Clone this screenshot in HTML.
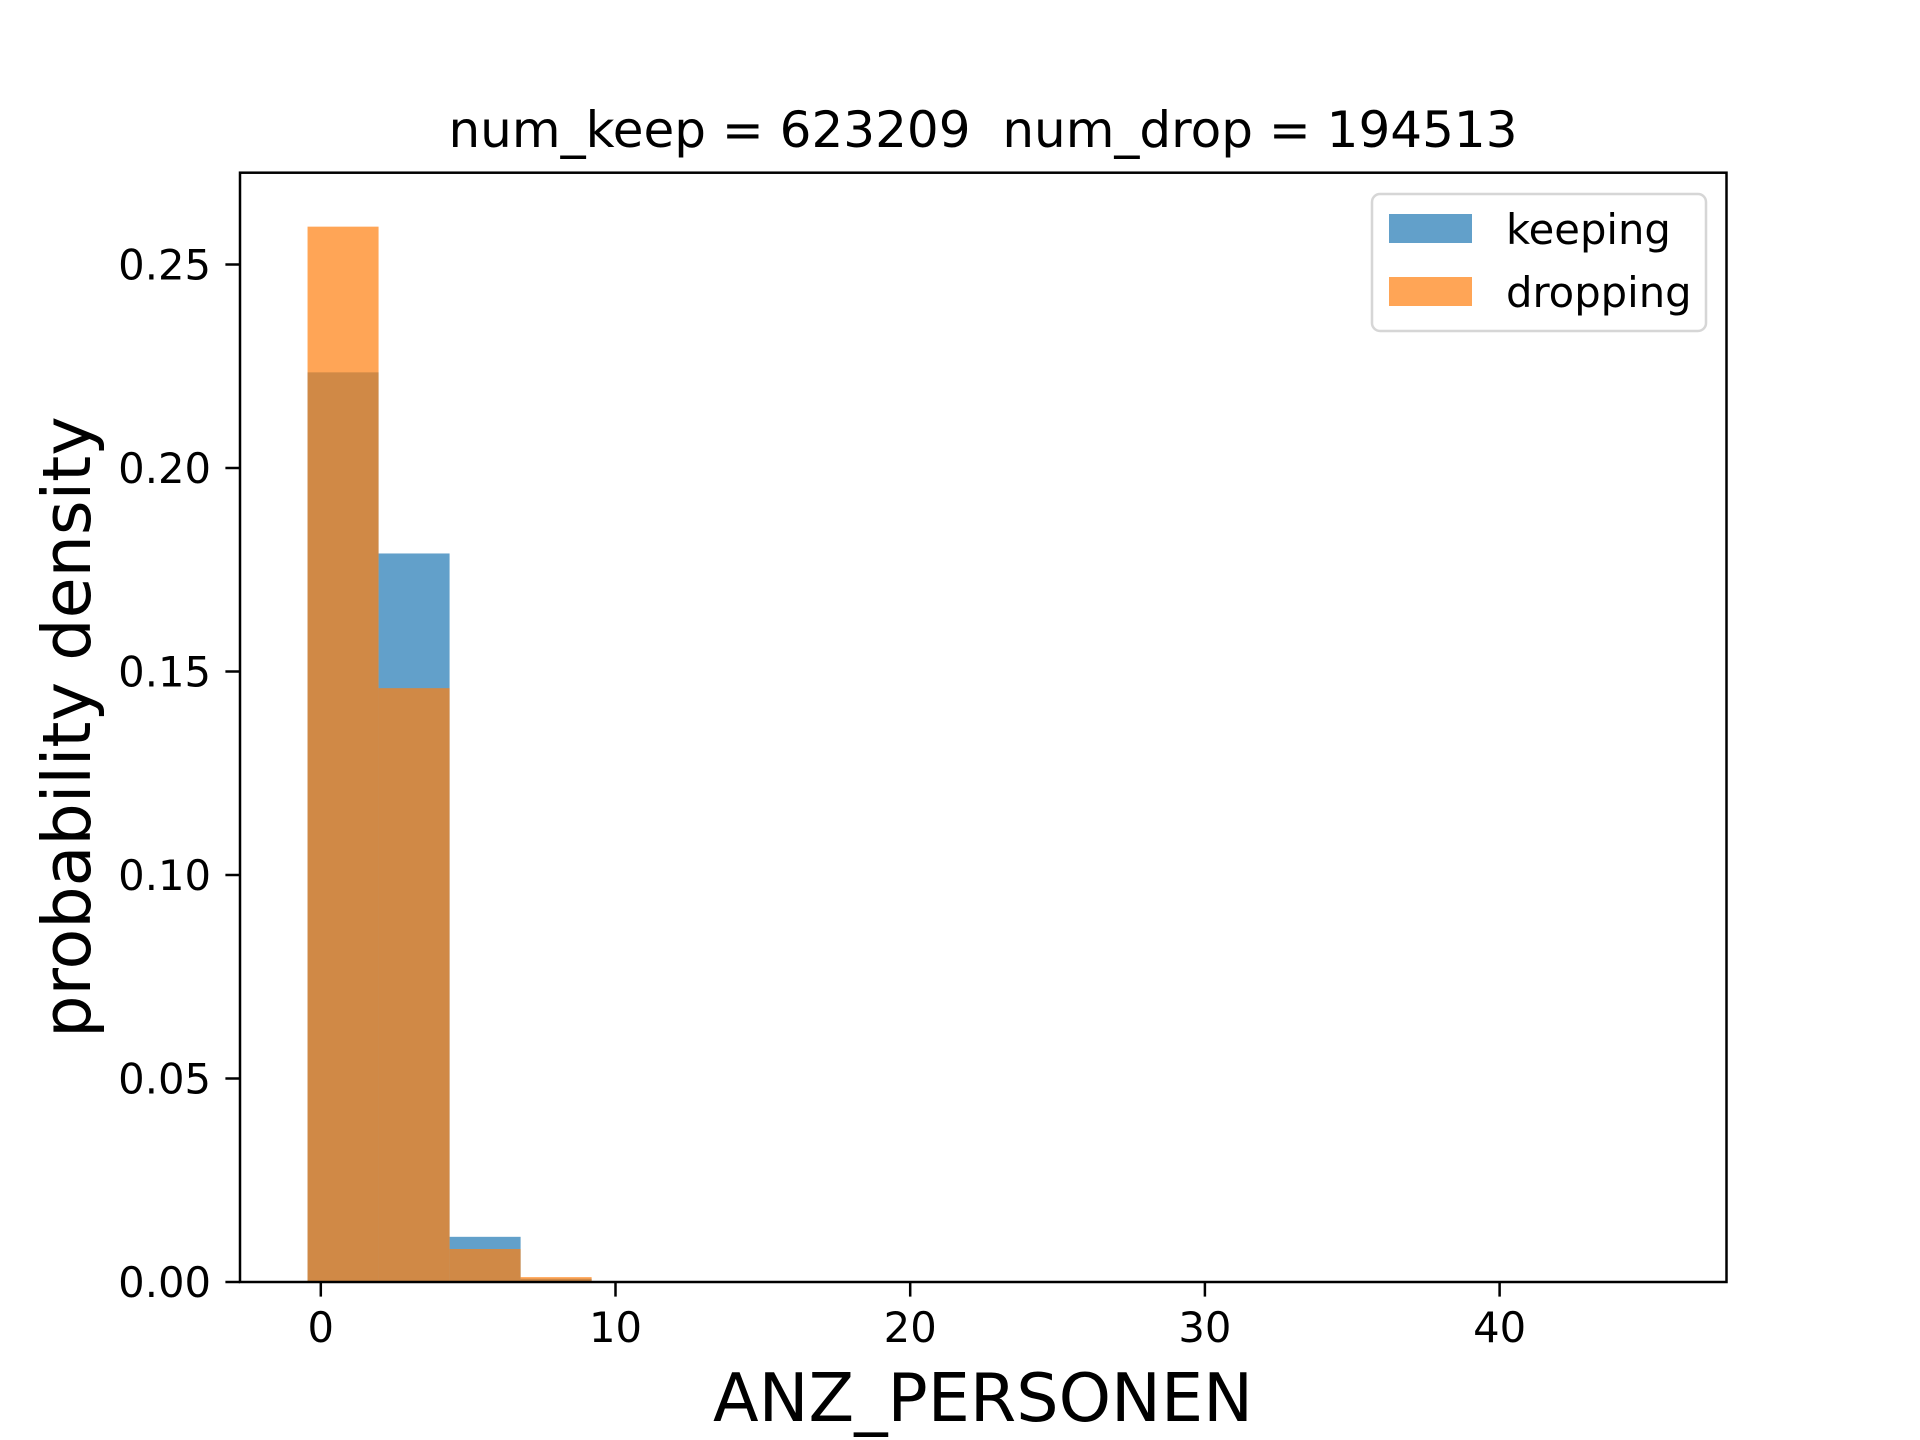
<!DOCTYPE html>
<html><head><meta charset="utf-8"><style>
html,body{margin:0;padding:0;background:#fff}
svg{display:block;font-family:"DejaVu Sans","Liberation Sans",sans-serif}
</style></head><body>
<svg id="chart" width="1920" height="1440" viewBox="0 0 1920 1440" xmlns="http://www.w3.org/2000/svg">
<rect width="1920" height="1440" fill="#fff"/>
<g id="bars"></g>
<rect x="240" y="172.7" width="1486.5" height="1109.3" fill="none" stroke="#000" stroke-width="2.5"/>
<g id="ticks"></g>
<text x="983" y="147" font-size="50" text-anchor="middle" style="white-space:pre" xml:space="preserve">num_keep = 623209  num_drop = 194513</text>
<text x="983" y="1421" font-size="66.7" text-anchor="middle">ANZ_PERSONEN</text>
<text transform="translate(90,727) rotate(-90)" font-size="66.7" text-anchor="middle">probability density</text>
<g>
<rect x="1372" y="194" width="334" height="137" rx="8" fill="#fff" fill-opacity="0.8" stroke="#d6d6d6" stroke-width="2.5"/>
<rect x="1389" y="214" width="83" height="29" fill="#1f77b4" fill-opacity="0.7"/>
<text x="1506" y="244" font-size="41.7">keeping</text>
<rect x="1389" y="277" width="83" height="29" fill="#ff7f0e" fill-opacity="0.7"/>
<text x="1506" y="307" font-size="41.7">dropping</text>
</g>
</svg>
<script>
const binEdgesStart = -0.45;
const binWidth = 2.41;
const keepValues = [0.2235, 0.179, 0.0111, 0.0008, 0.0001, 0, 0, 0, 0, 0, 0, 0, 0, 0, 0, 0, 0, 0, 0];
const dropValues = [0.2593, 0.1459, 0.0081, 0.0012, 0.0001, 0, 0, 0, 0, 0, 0, 0, 0, 0, 0, 0, 0, 0, 0];
const xTicks = [0, 10, 20, 30, 40];
const yTicks = [0, 0.05, 0.10, 0.15, 0.20, 0.25];
const yTickLabels = ["0.00", "0.05", "0.10", "0.15", "0.20", "0.25"];

const X0 = 320.8, XS = 29.47, Y0 = 1282, YS = 4070;
function sx(v){ return X0 + v * XS; }
function sy(v){ return Y0 - v * YS; }
const NS = "http://www.w3.org/2000/svg";
const bars = document.getElementById('bars');
function drawSeries(vals, color, name){
  vals.forEach((v, i) => {
    if (v <= 0) return;
    const x1 = sx(binEdgesStart + i * binWidth), x2 = sx(binEdgesStart + (i + 1) * binWidth);
    const r = document.createElementNS(NS, 'rect');
    r.setAttribute('x', x1); r.setAttribute('width', x2 - x1);
    r.setAttribute('y', sy(v)); r.setAttribute('height', Y0 - sy(v));
    r.setAttribute('fill', color); r.setAttribute('fill-opacity', 0.7);
    
    
    bars.appendChild(r);
  });
}
drawSeries(keepValues, '#1f77b4', 'keeping');
drawSeries(dropValues, '#ff7f0e', 'dropping');
const ticks = document.getElementById('ticks');
xTicks.forEach(t => {
  const l = document.createElementNS(NS, 'line');
  l.setAttribute('x1', sx(t)); l.setAttribute('x2', sx(t));
  l.setAttribute('y1', Y0); l.setAttribute('y2', Y0 + 14.6);
  l.setAttribute('stroke', '#000'); l.setAttribute('stroke-width', 2.5);
  
  
  ticks.appendChild(l);
  const tx = document.createElementNS(NS, 'text');
  tx.setAttribute('x', sx(t)); tx.setAttribute('y', Y0 + 60);
  tx.setAttribute('font-size', 41.7); tx.setAttribute('text-anchor', 'middle');
  tx.textContent = t;
  
  
  ticks.appendChild(tx);
});
yTicks.forEach((t, i) => {
  const l = document.createElementNS(NS, 'line');
  l.setAttribute('x1', 240); l.setAttribute('x2', 240 - 14.6);
  l.setAttribute('y1', sy(t)); l.setAttribute('y2', sy(t));
  l.setAttribute('stroke', '#000'); l.setAttribute('stroke-width', 2.5);
  
  
  ticks.appendChild(l);
  const tx = document.createElementNS(NS, 'text');
  tx.setAttribute('x', 211); tx.setAttribute('y', sy(t) + 15);
  tx.setAttribute('font-size', 41.7); tx.setAttribute('text-anchor', 'end');
  tx.textContent = yTickLabels[i];
  
  
  ticks.appendChild(tx);
});
</script>
</body></html>
